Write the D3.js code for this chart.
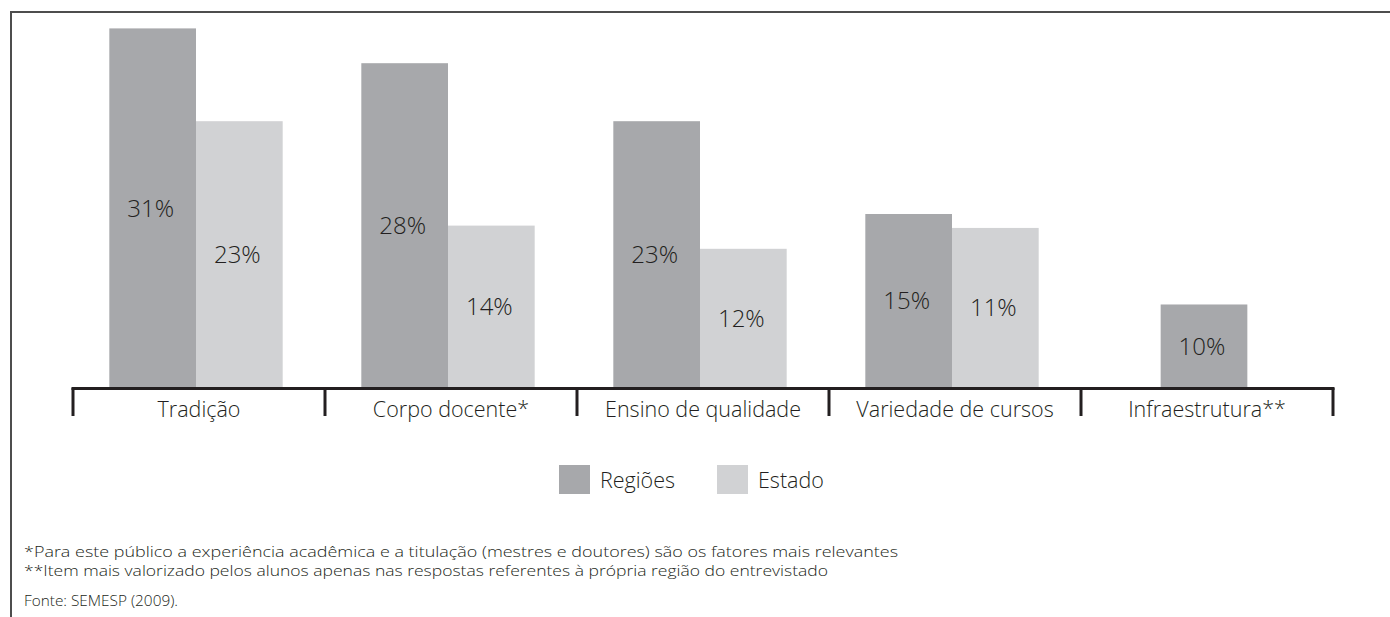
<!DOCTYPE html>
<html>
<head>
<meta charset="utf-8">
<script src="https://cdn.jsdelivr.net/npm/d3@7/dist/d3.min.js"></script>
<style>
  html, body { margin: 0; padding: 0; background: #fff; }
  svg { display: block; }
  text { font-family: "Open Sans", "Noto Sans", sans-serif; fill: #231f20; font-weight: 300; }
</style>
</head>
<body>
<svg id="chart" width="1390" height="617"></svg>
<script>
// ---- data ----
const categories = ["Tradição", "Corpo docente*", "Ensino de qualidade", "Variedade de cursos", "Infraestrutura**"];
const seriesNames = ["Regiões", "Estado"];
// printed percentages
const regioesValues = [31, 28, 23, 15, 10];
const estadoValues = [23, 14, 12, 11, null];
// bar lengths as drawn in the reference (in % units)
const regioesDrawn = [31, 28, 23, 15, 7.2];
const estadoDrawn = [23, 14, 12, 13.8, null];
const footnotes = [
  "*Para este público a experiência acadêmica e a titulação (mestres e doutores) são os fatores mais relevantes",
  "**Item mais valorizado pelos alunos apenas nas respostas referentes à própria região do entrevistado"
];
const sourceNote = "Fonte: SEMESP (2009).";

const colors = { "Regiões": "#a7a8ab", "Estado": "#d1d2d4" };

const svg = d3.select("#chart");

// frame
svg.append("path")
  .attr("d", "M1390,12 H11 V617")
  .attr("fill", "none")
  .attr("stroke", "#4d4d4d")
  .attr("stroke-width", 2);

const baseY = 388;
const x0 = d3.scaleBand().domain(categories).range([73, 1333]).padding(0);
const y = d3.scaleLinear().domain([0, 33]).range([baseY, baseY - 33 * 11.6]);
const barW = x0.bandwidth() * 0.344;

const rows = categories.map((c, i) => {
  const items = [];
  if (regioesDrawn[i] != null) items.push({ s: "Regiões", v: regioesDrawn[i], label: regioesValues[i] });
  if (estadoDrawn[i] != null) items.push({ s: "Estado", v: estadoDrawn[i], label: estadoValues[i] });
  return { c, items };
});

const g = svg.append("g");
rows.forEach(row => {
  const n = row.items.length;
  const start = x0(row.c) + x0.bandwidth() / 2 - 3 - (n * barW) / 2;
  row.items.forEach((d, j) => {
    const bx = start + j * barW;
    g.append("rect")
      .attr("x", bx)
      .attr("y", y(d.v))
      .attr("width", barW)
      .attr("height", y(0) - y(d.v))
      .attr("fill", colors[d.s]);
    g.append("text")
      .attr("x", bx + barW / 2 - 2)
      .attr("y", (y(d.v) + y(0)) / 2)
      .attr("dy", "0.35em")
      .attr("text-anchor", "middle")
      .style("font-size", "24px")
      .text(d.label + "%");
  });
});

// axis
const axis = d3.axisBottom(x0).tickSize(0).tickPadding(14);
const ag = svg.append("g").attr("transform", `translate(0,${baseY})`).call(axis);
ag.select(".domain").remove();
ag.selectAll(".tick text")
  .style("font-family", "\"Open Sans\", sans-serif")
  .style("font-weight", "300")
  .style("font-size", "21.5px")
  .attr("fill", "#231f20");

const bounds = categories.map(c => x0(c)).concat([x0(categories[categories.length - 1]) + x0.bandwidth()]);
svg.append("line")
  .attr("x1", bounds[0] - 1.5).attr("x2", bounds[bounds.length - 1] + 1.5)
  .attr("y1", baseY + 0.5).attr("y2", baseY + 0.5)
  .attr("stroke", "#231f20").attr("stroke-width", 3);
svg.selectAll(".btick").data(bounds).enter().append("line")
  .attr("x1", d => d).attr("x2", d => d)
  .attr("y1", baseY).attr("y2", baseY + 28)
  .attr("stroke", "#231f20").attr("stroke-width", 3);

// legend
const legendX = [559, 717];
seriesNames.forEach((s, i) => {
  svg.append("rect").attr("x", legendX[i]).attr("y", 465).attr("width", 31).attr("height", 29).attr("fill", colors[s]);
  svg.append("text").attr("x", legendX[i] + 41).attr("y", 480).attr("dy", "0.35em")
    .style("font-size", "21.5px").text(s);
});

// footnotes
const footLens = [874, 804];
footnotes.forEach((t, i) => {
  svg.append("text").attr("x", 24).attr("y", 552.5 + i * 19).attr("dy", "0.35em")
    .style("font-size", "14px")
    .attr("textLength", footLens[i]).attr("lengthAdjust", "spacingAndGlyphs")
    .text(t);
});
svg.append("text").attr("x", 24).attr("y", 601).attr("dy", "0.35em")
  .style("font-size", "14px")
  .attr("textLength", 154).attr("lengthAdjust", "spacingAndGlyphs")
  .text(sourceNote);
</script>
</body>
</html>
